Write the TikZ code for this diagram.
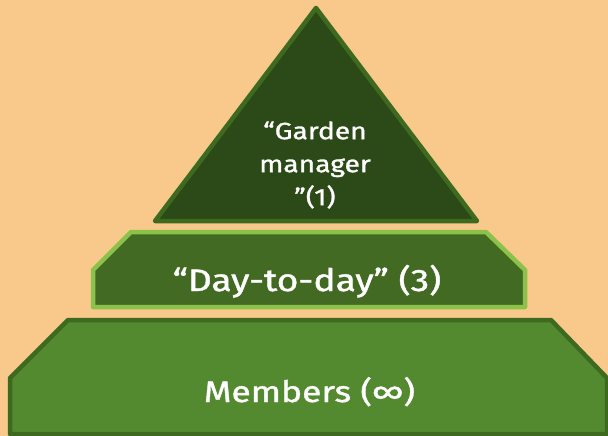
\documentclass[tikz,border=0pt]{standalone}
\usepackage{fontspec}
\setmainfont{Fira Sans}[FakeStretch=1.2,FakeBold=1.3]
\definecolor{sand}{HTML}{F8C98B}
\definecolor{topfill}{HTML}{2C4A18}
\definecolor{topline}{HTML}{3D6A1F}
\definecolor{midfill}{HTML}{426A22}
\definecolor{midline}{HTML}{8BC34A}
\definecolor{lowfill}{HTML}{548A2F}
\definecolor{lowline}{HTML}{3E6A20}
\begin{document}
\begin{tikzpicture}
		[x=1pt,y=-1pt,
		tier/.style = {line width=4.5pt, line join=round},
		tierlabel/.style = {text=white, align=center, inner sep=0pt}]
		\fill[sand] (0,0) rectangle (608,436);
		\clip (0,0) rectangle (608,436);
		% members
		\draw[tier,draw=lowline,fill=lowfill] (68,320) -- (551,320) -- (607,378) -- (607,434)
			-- (10,434) -- (10,378) -- cycle;
		% day-to-day
		\draw[tier,draw=midline,fill=midfill] (131,232) -- (486,232) -- (525,270) -- (525,307)
			-- (93,307) -- (93,270) -- cycle;
		% garden manager
		\draw[tier,draw=topline,fill=topfill] (316,8) -- (477,221) -- (155,221) -- cycle;
		\node[tierlabel,name=top,font=\fontsize{23.5}{33}\selectfont] at (315,165)
			{“Garden\\manager\\”(1)};
		\node[tierlabel,name=mid,font=\fontsize{31}{36}\selectfont,anchor=base] at (307,291)
			{“Day-to-day” (3)};
		\node[tierlabel,name=low,font=\fontsize{29.5}{34}\selectfont,anchor=base] at (309.5,402)
			{Members (∞)};
	\end{tikzpicture}
\end{document}
